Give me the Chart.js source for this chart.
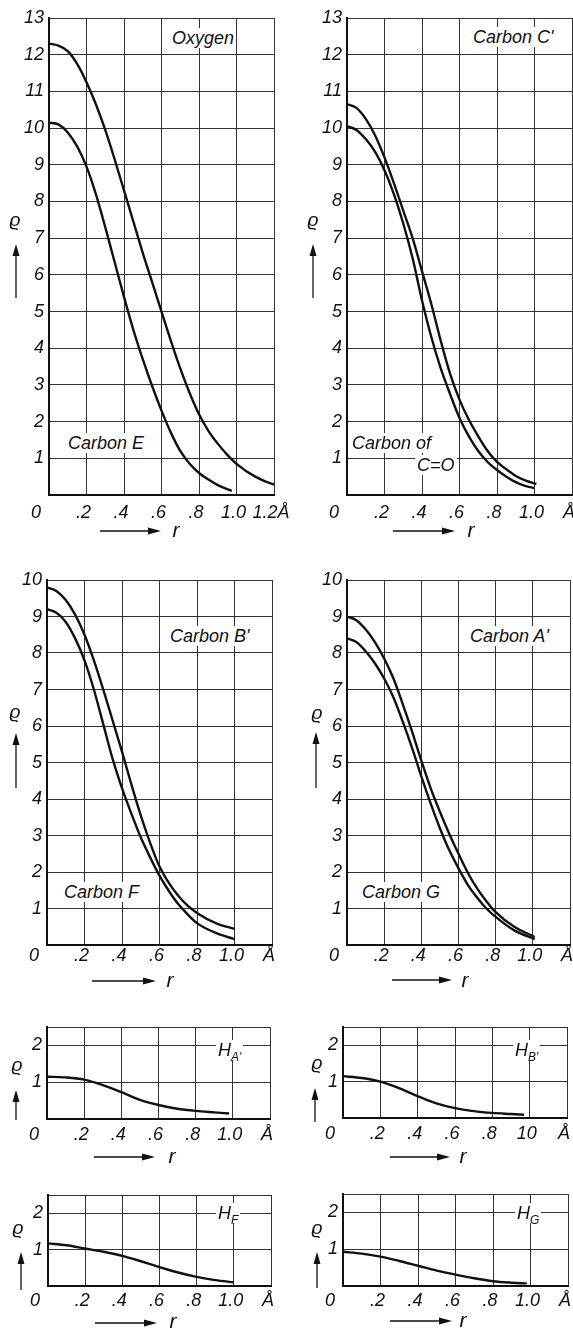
<!DOCTYPE html>
<html>
<head>
<meta charset="utf-8">
<script src="https://cdn.jsdelivr.net/npm/chart.js@4.4.0/dist/chart.umd.min.js"></script>
<style>
body { margin:0; background:#fff; width:573px; height:1329px; position:relative; overflow:hidden;
       font-family:"Liberation Sans", Arial, sans-serif; font-style:italic; color:#111; }
canvas { position:absolute; }
.t { position:absolute; white-space:nowrap; font-size:18px; line-height:20px; }
.box { background:#fff; padding:0 2px; }
.c { transform:translate(-50%,-50%); }
sub { font-size:12px; vertical-align:-5px; line-height:0; }
</style>
</head>
<body>
<script>
// radial distance r (Angstrom) and density rho
var rOxygen = [0, 0.05, 0.1, 0.15, 0.2, 0.25, 0.3, 0.35, 0.4, 0.45, 0.5, 0.55, 0.6, 0.65, 0.7, 0.75, 0.8, 0.85, 0.9, 0.95, 1.0, 1.1, 1.2, 1.28];
var rhoOxygen = [12.3, 12.25, 12.1, 11.75, 11.25, 10.65, 9.95, 9.15, 8.3, 7.45, 6.6, 5.8, 5.0, 4.2, 3.45, 2.78, 2.2, 1.75, 1.4, 1.1, 0.85, 0.5, 0.28, 0.19];
var rCarbonE = [0, 0.05, 0.1, 0.15, 0.2, 0.25, 0.3, 0.35, 0.4, 0.45, 0.5, 0.55, 0.6, 0.65, 0.7, 0.75, 0.8, 0.85, 0.9, 0.975];
var rhoCarbonE = [10.15, 10.1, 9.88, 9.5, 8.95, 8.2, 7.3, 6.35, 5.4, 4.5, 3.7, 2.97, 2.3, 1.7, 1.2, 0.85, 0.6, 0.42, 0.27, 0.11];

var rCarbonC1 = [0, 0.05, 0.1, 0.15, 0.2, 0.25, 0.3, 0.35, 0.4, 0.45, 0.5, 0.55, 0.6, 0.65, 0.7, 0.75, 0.8, 0.85, 0.9, 0.95, 1.01];
var rhoCarbonC1 = [10.65, 10.55, 10.25, 9.8, 9.2, 8.5, 7.75, 7.0, 6.1, 5.2, 4.2, 3.3, 2.6, 2.05, 1.6, 1.2, 0.9, 0.7, 0.52, 0.4, 0.3];
var rCarbonCO = [0, 0.05, 0.1, 0.15, 0.2, 0.25, 0.3, 0.35, 0.4, 0.45, 0.5, 0.55, 0.6, 0.65, 0.7, 0.75, 0.8, 0.85, 0.9, 0.95, 1.0];
var rhoCarbonCO = [10.05, 9.95, 9.7, 9.35, 8.85, 8.2, 7.4, 6.45, 5.3, 4.3, 3.45, 2.75, 2.1, 1.6, 1.2, 0.9, 0.68, 0.5, 0.35, 0.25, 0.19];

var rCarbonB1 = [0, 0.05, 0.1, 0.15, 0.2, 0.25, 0.3, 0.35, 0.4, 0.45, 0.5, 0.55, 0.6, 0.65, 0.7, 0.75, 0.8, 0.9, 1.0];
var rhoCarbonB1 = [9.8, 9.7, 9.45, 9.05, 8.5, 7.8, 7.0, 6.15, 5.3, 4.4, 3.55, 2.8, 2.15, 1.7, 1.35, 1.08, 0.88, 0.6, 0.44];
var rCarbonF = [0, 0.05, 0.1, 0.15, 0.2, 0.25, 0.3, 0.35, 0.4, 0.45, 0.5, 0.55, 0.6, 0.65, 0.7, 0.75, 0.8, 0.9, 1.0];
var rhoCarbonF = [9.2, 9.1, 8.85, 8.4, 7.8, 7.0, 6.05, 5.1, 4.3, 3.6, 2.95, 2.4, 1.9, 1.48, 1.12, 0.84, 0.6, 0.33, 0.16];

var rCarbonA1 = [0, 0.05, 0.1, 0.15, 0.2, 0.25, 0.3, 0.35, 0.4, 0.45, 0.5, 0.55, 0.6, 0.65, 0.7, 0.75, 0.8, 0.9, 1.01];
var rhoCarbonA1 = [9.0, 8.9, 8.65, 8.3, 7.85, 7.3, 6.6, 5.85, 5.05, 4.3, 3.65, 3.05, 2.5, 1.98, 1.55, 1.2, 0.9, 0.5, 0.22];
var rCarbonG = [0, 0.05, 0.1, 0.15, 0.2, 0.25, 0.3, 0.35, 0.4, 0.45, 0.5, 0.55, 0.6, 0.65, 0.7, 0.75, 0.8, 0.9, 1.01];
var rhoCarbonG = [8.4, 8.3, 8.05, 7.72, 7.3, 6.78, 6.12, 5.4, 4.62, 3.88, 3.2, 2.6, 2.1, 1.65, 1.3, 1.0, 0.77, 0.4, 0.16];

var rHA1 = [0, 0.1, 0.2, 0.3, 0.4, 0.5, 0.6, 0.7, 0.8, 0.9, 0.98];
var rhoHA1 = [1.15, 1.13, 1.07, 0.92, 0.73, 0.52, 0.38, 0.28, 0.22, 0.18, 0.15];
var rHB1 = [0, 0.1, 0.2, 0.3, 0.4, 0.5, 0.6, 0.7, 0.8, 0.9, 0.97];
var rhoHB1 = [1.15, 1.1, 1.0, 0.82, 0.6, 0.4, 0.27, 0.19, 0.14, 0.11, 0.09];
var rHF = [0, 0.1, 0.2, 0.3, 0.4, 0.5, 0.6, 0.7, 0.8, 0.9, 1.0];
var rhoHF = [1.17, 1.12, 1.03, 0.94, 0.83, 0.68, 0.52, 0.37, 0.25, 0.16, 0.1];
var rHG = [0, 0.1, 0.2, 0.3, 0.4, 0.5, 0.6, 0.7, 0.8, 0.9, 0.98];
var rhoHG = [0.93, 0.88, 0.8, 0.68, 0.55, 0.42, 0.31, 0.21, 0.13, 0.09, 0.07];

// tick labels
var xTicksOxygen = ['0    ', '.2', '.4', '.6', '.8', '1.0', '1.2Å'];
var xTicks = ['0    ', '.2', '.4', '.6', '.8', '1.0', 'Å'];
var xTicksHB = ['0    ', '.2', '.4', '.6', '.8', '10', 'Å'];

// panel layout (page pixels)
var panels = [
  {cx:0, cy:4, cw:296, ch:550, L:49, T:18, R:274, B:495, ymax:13, xlab:xTicksOxygen, pad:7,
   sets:[[rOxygen, rhoOxygen], [rCarbonE, rhoCarbonE]],
   up:{x:16, tip:244, tail:298}, right:{x1:100, tip:161, y:531}},
  {cx:298, cy:4, cw:275, ch:550, L:347, T:18, R:572, B:495, ymax:13, xlab:xTicks, pad:7,
   sets:[[rCarbonC1, rhoCarbonC1], [rCarbonCO, rhoCarbonCO]],
   up:{x:313, tip:244, tail:298}, right:{x1:393, tip:455, y:531}},
  {cx:0, cy:568, cw:296, ch:420, L:47, T:580, R:272, B:945, ymax:10, xlab:xTicks, pad:0,
   sets:[[rCarbonB1, rhoCarbonB1], [rCarbonF, rhoCarbonF]],
   up:{x:16, tip:733, tail:788}, right:{x1:92, tip:156, y:981}},
  {cx:298, cy:568, cw:275, ch:420, L:347, T:580, R:570, B:945, ymax:10, xlab:xTicks, pad:0,
   sets:[[rCarbonA1, rhoCarbonA1], [rCarbonG, rhoCarbonG]],
   up:{x:316, tip:732, tail:788}, right:{x1:392, tip:452, y:980}},
  {cx:0, cy:1015, cw:296, ch:150, L:47, T:1027, R:270, B:1119, ymax:2.5, xlab:xTicks, pad:5,
   sets:[[rHA1, rhoHA1]],
   up:{x:16, tip:1090, tail:1120}, right:{x1:94, tip:155, y:1157}},
  {cx:298, cy:1015, cw:275, ch:150, L:343, T:1027, R:567, B:1118, ymax:2.5, xlab:xTicksHB, pad:5,
   sets:[[rHB1, rhoHB1]],
   up:{x:315, tip:1088, tail:1122}, right:{x1:390, tip:450, y:1157}},
  {cx:0, cy:1182, cw:296, ch:147, L:48, T:1195, R:271, B:1286, ymax:2.5, xlab:xTicks, pad:4,
   sets:[[rHF, rhoHF]],
   up:{x:21, tip:1252, tail:1290}, right:{x1:95, tip:157, y:1323}},
  {cx:298, cy:1182, cw:275, ch:147, L:343, T:1194, R:568, B:1286, ymax:2.5, xlab:xTicks, pad:4,
   sets:[[rHG, rhoHG]],
   up:{x:317, tip:1252, tail:1288}, right:{x1:390, tip:452, y:1321}}
];

var tickFont = {family:'Liberation Sans', size:18, style:'italic'};

function makeChart(p) {
  var cv = document.createElement('canvas');
  cv.width = p.cw;
  cv.height = p.ch;
  cv.style.left = p.cx + 'px';
  cv.style.top = p.cy + 'px';
  document.body.appendChild(cv);

  var arrows = {
    id: 'arrows',
    afterDraw: function(chart) {
      var ctx = chart.ctx;
      ctx.save();
      ctx.translate(-p.cx, -p.cy);
      ctx.strokeStyle = '#111';
      ctx.fillStyle = '#111';
      ctx.lineWidth = 1.3;
      // rho arrow (up)
      ctx.beginPath();
      ctx.moveTo(p.up.x, p.up.tail);
      ctx.lineTo(p.up.x, p.up.tip + 10);
      ctx.stroke();
      ctx.beginPath();
      ctx.moveTo(p.up.x, p.up.tip);
      ctx.lineTo(p.up.x - 3.5, p.up.tip + 12);
      ctx.lineTo(p.up.x + 3.5, p.up.tip + 12);
      ctx.closePath();
      ctx.fill();
      // r arrow (right)
      ctx.beginPath();
      ctx.moveTo(p.right.x1, p.right.y);
      ctx.lineTo(p.right.tip - 10, p.right.y);
      ctx.stroke();
      ctx.beginPath();
      ctx.moveTo(p.right.tip, p.right.y);
      ctx.lineTo(p.right.tip - 13, p.right.y - 3.5);
      ctx.lineTo(p.right.tip - 13, p.right.y + 3.5);
      ctx.closePath();
      ctx.fill();
      ctx.restore();
    }
  };

  var datasets = [];
  for (var s of p.sets) {
    datasets.push({
      data: s[0].map(function(r, i) { return {x: r, y: s[1][i]}; }),
      borderColor: '#111',
      borderWidth: 2.4,
      pointRadius: 0,
      cubicInterpolationMode: 'monotone',
      fill: false,
      clip: false
    });
  }

  new Chart(cv, {
    type: 'line',
    data: {datasets: datasets},
    options: {
      responsive: false,
      animation: false,
      devicePixelRatio: 1,
      layout: {padding: {left: 0, top: p.T - p.cy, right: p.cx + p.cw - p.R, bottom: 0}},
      plugins: {legend: {display: false}, tooltip: {enabled: false}},
      scales: {
        x: {
          type: 'linear', min: 0, max: 1.2,
          ticks: {stepSize: 0.2, autoSkip: false, maxRotation: 0, padding: p.pad, labelOffset: -3,
                  color: '#111', font: tickFont,
                  callback: function(v) { return p.xlab[Math.round(v * 5)]; }},
          grid: {color: '#333', lineWidth: 1, drawTicks: false},
          border: {color: '#111', width: 2},
          afterFit: function(sc) { sc.height = p.cy + p.ch - p.B; sc.paddingLeft = 0; sc.paddingRight = 0; }
        },
        y: {
          type: 'linear', min: 0, max: p.ymax,
          ticks: {stepSize: 1, padding: 5, color: '#111', font: tickFont,
                  callback: function(v) { return (Number.isInteger(v) && v > 0) ? String(v) : ''; }},
          grid: {color: '#333', lineWidth: 1, drawTicks: false},
          border: {color: '#111', width: 2},
          afterFit: function(sc) { sc.width = p.L - p.cx; sc.paddingTop = 0; sc.paddingBottom = 0; }
        }
      }
    },
    plugins: [arrows]
  });
}

for (var p of panels) makeChart(p);

// text labels
var labels = [
  ['Oxygen', 170, 28, 'box'], ["Carbon C'", 471, 27, 'box'],
  ['Carbon E', 66, 433, 'box'], ['Carbon of', 350, 433, 'box'], ['C=O', 415, 455, 'box'],
  ["Carbon B'", 168, 626, 'box'], ['Carbon F', 62, 882, 'box'],
  ["Carbon A'", 468, 626, 'box'], ['Carbon G', 360, 882, 'box'],
  ["H<sub>A'</sub>", 216, 1040, 'box'], ["H<sub>B'</sub>", 513, 1040, 'box'],
  ['H<sub>F</sub>', 216, 1203, 'box'], ['H<sub>G</sub>', 515, 1203, 'box']
];
for (var l of labels) {
  var d = document.createElement('div');
  d.className = 't ' + l[3];
  d.innerHTML = l[0];
  d.style.left = l[1] + 'px';
  d.style.top = l[2] + 'px';
  document.body.appendChild(d);
}
var rhoPos = [[15, 220], [313, 220], [15, 712], [317, 713], [17, 1065], [317, 1063], [18, 1228], [317, 1228]];
var rPos = [[176, 530], [471, 530], [170, 980], [465, 980], [172, 1156], [463, 1156], [173, 1321], [463, 1320]];
for (var q of rhoPos) {
  var e = document.createElement('div');
  e.className = 't c';
  e.style.fontSize = '19px';
  e.textContent = 'ϱ';
  e.style.left = q[0] + 'px';
  e.style.top = q[1] + 'px';
  document.body.appendChild(e);
}
for (var q of rPos) {
  var e = document.createElement('div');
  e.className = 't c';
  e.style.fontSize = '21px';
  e.textContent = 'r';
  e.style.left = q[0] + 'px';
  e.style.top = q[1] + 'px';
  document.body.appendChild(e);
}
</script>
</body>
</html>
